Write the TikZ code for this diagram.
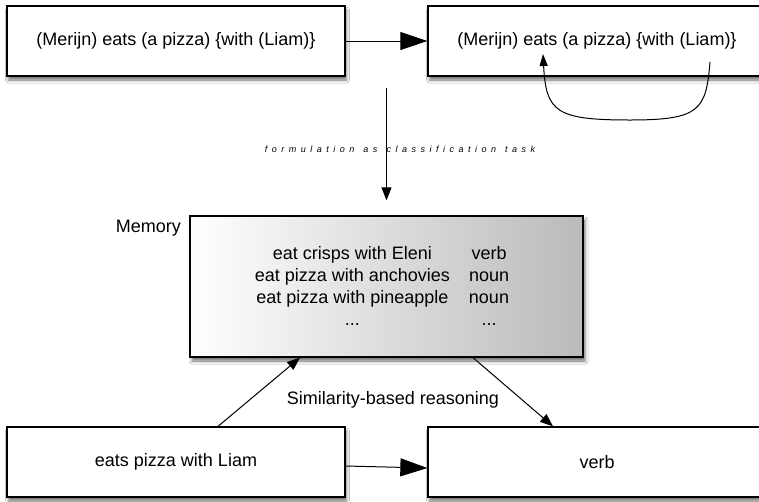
\documentclass[tikz,border=0pt]{standalone}
\usepackage{fontspec}
\setmainfont{Liberation Sans}
\newfontfamily\spacedit[LetterSpace=50, WordSpace=1.3]{Liberation Sans}
\usetikzlibrary{arrows.meta,shadows.blur}

\tikzset{
  box/.style={draw=black, line width=1.3pt, fill=white, minimum width=338pt,
    minimum height=70pt, inner sep=0pt,
    blur shadow={shadow xshift=1.5pt, shadow yshift=-4pt, shadow blur radius=3pt, shadow opacity=55}},
  membox/.style={draw=black, line width=1.3pt, minimum width=393pt, minimum height=141pt,
    inner sep=0pt, left color=white, right color=black!27,
    blur shadow={shadow xshift=2pt, shadow yshift=-4pt, shadow blur radius=3pt, shadow opacity=55}},
  bigarrow/.style={line width=1pt, -{Triangle[length=27pt, width=18pt]}},
  smallarrow/.style={line width=1pt, -{Triangle[length=13pt, width=10pt]}},
  loopline/.style={line width=1pt, -{Triangle[length=12pt, width=8pt]}},
  txt/.style={font=\fontsize{18}{22}\selectfont, inner sep=0pt},
}

\begin{document}
\begin{tikzpicture}[x=1pt, y=-1pt]
  \useasboundingbox (0,0) rectangle (759,501);
  \clip (0,0) rectangle (759,501);
  \fill[white] (0,0) rectangle (759,501);

  % top row: the sentence before and after attachment
  \node[box, txt] (src) at (176,41) {(Merijn) eats (a pizza) \{with (Liam)\}};
  \node[box, txt] (dst) at (597,41) {(Merijn) eats (a pizza) \{with (Liam)\}};
  \draw[bigarrow] (src.east) -- (dst.west);

  % attachment loop inside the right sentence
  \coordinate (loopstart) at (710,62);
  \coordinate (loopend) at (543,54);
  \draw[loopline] (loopstart) .. controls (706,110) and (700,120) .. (630,120)
    .. controls (556,120) and (546,112) .. (loopend);

  % memory of stored instances
  \node[membox] (mem) at (386.5,286.5) {};
  \node[txt, anchor=east] (memlabel) at (181,228) {Memory};
  \node[txt] (table) at (382,288) {%
    \begin{tabular}{@{}c@{\hspace{19pt}}c@{}}
      eat crisps with Eleni & verb\\
      eat pizza with anchovies & noun\\
      eat pizza with pineapple & noun\\
      ... & ...
    \end{tabular}};

  % reformulation step
  \coordinate (formstart) at (386.5,88);
  \draw[smallarrow] (formstart) -- ([yshift=15pt]mem.north);
  \node[inner sep=0pt, font=\fontsize{9}{10}\spacedit\itshape] (formlabel) at (400,149)
    {formulation as classification task};

  % bottom row: query and decision
  \node[box, txt] (query) at (176,462) {eats pizza with Liam};
  \node[box, txt] (answer) at (597,462) {verb};
  \draw[bigarrow] ([yshift=-4pt]query.east) -- ([yshift=-6pt]answer.west);
  \draw[smallarrow] ([xshift=42pt]query.north) -- ([xshift=-86.5pt]mem.south);
  \draw[smallarrow] ([xshift=86.5pt]mem.south) -- ([xshift=-44pt]answer.north);
  \node[txt] (simlabel) at (393,400) {Similarity-based reasoning};
\end{tikzpicture}
\end{document}
